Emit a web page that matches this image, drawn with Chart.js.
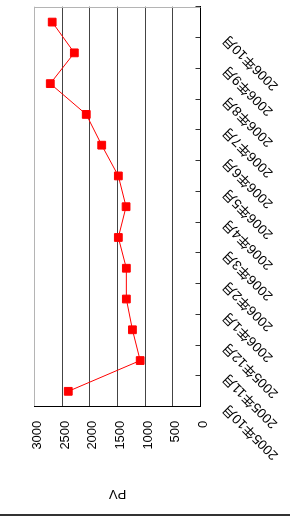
<!DOCTYPE html>
<html>
<head>
<meta charset="utf-8">
<script src="https://cdn.jsdelivr.net/npm/chart.js@4"></script>
<style>
  html, body { margin:0; padding:0; background:#fff; overflow:hidden; width:290px; height:518px; }
  #wrap { position:absolute; left:0; top:0; width:518px; height:290px; transform-origin:0 0; transform:translateY(518px) rotate(-90deg); background:#fff; }
  #edge { position:absolute; left:2px; top:0; width:2px; height:290px; background:#333; }
  canvas { position:absolute; left:0; top:0; }
</style>
</head>
<body>
<div id="wrap"><canvas id="c" width="518" height="290"></canvas><div id="edge"></div></div>
<script>
const categories = ['2005年10月','2005年11月','2005年12月','2006年1月','2006年2月','2006年3月','2006年4月','2006年5月','2006年6月','2006年7月','2006年8月','2006年9月','2006年10月'];
const pv = [2390, 1090, 1230, 1340, 1340, 1485, 1345, 1485, 1785, 2065, 2715, 2280, 2680];
const yMin = 0, yMax = 3000, yStep = 500;
const yTitle = 'PV';

const FONT = "'Liberation Sans', 'Noto Sans CJK JP', sans-serif";

const framePlugin = {
  id: 'frame',
  beforeDatasetsDraw(chart) {
    const {ctx, chartArea: a} = chart;
    ctx.save();
    ctx.strokeStyle = '#b4b4b4';
    ctx.lineWidth = 1;
    ctx.beginPath();
    ctx.moveTo(Math.round(a.right) - 0.5, a.top);
    ctx.lineTo(Math.round(a.right) - 0.5, a.bottom);
    ctx.stroke();
    ctx.restore();
  }
};

new Chart(document.getElementById('c'), {
  type: 'line',
  data: {
    labels: categories,
    datasets: [{
      data: pv,
      borderColor: '#ff0000',
      borderWidth: 1,
      backgroundColor: '#ff0000',
      pointStyle: 'rect',
      pointRadius: 5.5,
      pointBorderWidth: 1,
      pointBackgroundColor: '#ff0000',
      pointBorderColor: '#ff0000',
      tension: 0,
      fill: false
    }]
  },
  options: {
    responsive: false,
    animation: false,
    devicePixelRatio: 1,
    layout: { padding: { top: 34.5, right: 6.7, left: 0, bottom: 0 } },
    plugins: { legend: { display: false }, tooltip: { enabled: false } },
    scales: {
      x: {
        type: 'category',
        offset: true,
        grid: { offset: true, drawOnChartArea: false, drawTicks: true, tickLength: -5, color: '#333' },
        border: { color: '#000', width: 1 },
        ticks: { minRotation: 45, maxRotation: 45, autoSkip: false, padding: 24, labelOffset: -15, color: '#000', font: { family: FONT, size: 13.5 } },
        afterFit: s => { s.height = 89.5; s.paddingLeft = 0; s.paddingRight = 0; }
      },
      y: {
        min: yMin, max: yMax,
        ticks: { stepSize: yStep, padding: 14, labelOffset: 3, color: '#000', font: { family: FONT, size: 13 }, callback: v => String(v) },
        grid: { drawTicks: false, color: c => (c.tick && c.tick.value === yMax) ? '#b4b4b4' : '#444' },
        border: { color: '#000', width: 1 },
        title: { display: true, text: yTitle, color: '#000', padding: { top: 17, bottom: 0 }, font: { family: FONT, size: 13 } },
        afterFit: s => { s.width = 111.3; }
      }
    }
  },
  plugins: [framePlugin]
});
</script>
</body>
</html>
